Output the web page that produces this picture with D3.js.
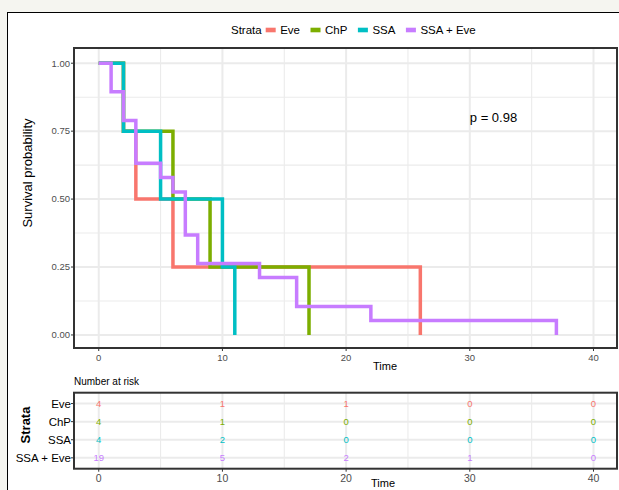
<!DOCTYPE html>
<html lang="en">
  <head>
    <meta charset="utf-8">
    <title>Survival curves</title>
    <script src="https://d3js.org/d3.v7.min.js"></script>
    <style>
     body {
       margin: 0;
       background-color: #f5f5f0;
     }
     svg {
       font-family: 'Liberation Sans', Arial, sans-serif;
     }
     .grid line {
       stroke: #ebebeb;
     }
     .tick-label {
       fill: #4d4d4d;
     }
    </style>
  </head>
  <body>
  <div id="chart"></div>
  <script>

  // strata and colours
  const strata = ["Eve", "ChP", "SSA", "SSA + Eve"];
  const colors = ["#F8766D", "#7CAE00", "#00BFC4", "#C77CFF"];

  // Kaplan-Meier steps
  const eveTime  = [0, 2, 3, 6, 26];
  const eveSurv  = [1, 0.75, 0.5, 0.25, 0];
  const chpTime  = [0, 2, 6, 9, 17];
  const chpSurv  = [1, 0.75, 0.5, 0.25, 0];
  const ssaTime  = [0, 2, 5, 10, 11];
  const ssaSurv  = [1, 0.75, 0.5, 0.25, 0];
  const comboTime = [0, 1, 2, 3, 5, 6, 7, 8, 13, 16, 22, 37];
  const comboSurv = [1, 0.895, 0.789, 0.632, 0.579, 0.526, 0.368, 0.263, 0.211, 0.105, 0.053, 0];

  // number at risk table
  const riskTimes = [0, 10, 20, 30, 40];
  const riskEve   = [4, 1, 1, 0, 0];
  const riskChP   = [4, 1, 0, 0, 0];
  const riskSSA   = [4, 2, 0, 0, 0];
  const riskCombo = [19, 5, 2, 1, 0];

  const yTicks = [0, 0.25, 0.5, 0.75, 1];
  const yTickLabels = ["0.00", "0.25", "0.50", "0.75", "1.00"];
  const xTicks = [0, 10, 20, 30, 40];
  const pLabel = "p = 0.98";

  const series = [
    {name: strata[0], time: eveTime, surv: eveSurv},
    {name: strata[1], time: chpTime, surv: chpSurv},
    {name: strata[2], time: ssaTime, surv: ssaSurv},
    {name: strata[3], time: comboTime, surv: comboSurv}
  ];
  const risk = [riskEve, riskChP, riskSSA, riskCombo];

  const W = 619, H = 490;
  const panel = {left: 74, right: 617, top: 48, bottom: 348};
  const rpanel = {left: 74, right: 617, top: 392.7, bottom: 468.7};

  const svg = d3.select("#chart").append("svg")
      .attr("width", W)
      .attr("height", H);

  // white card
  svg.append("rect")
      .attr("x", 7.5).attr("y", 12.5)
      .attr("width", W).attr("height", H)
      .attr("fill", "white")
      .attr("stroke", "black")
      .attr("stroke-width", 1);

  var x = d3.scaleLinear().domain([-2, 41.9]).range([panel.left, panel.right]);
  var y = d3.scaleLinear().domain([-0.048, 1.056]).range([panel.bottom, panel.top]);
  var color = d3.scaleOrdinal().domain(strata).range(colors);

  const minorX = [5, 15, 25, 35];
  const minorY = [0.125, 0.375, 0.625, 0.875];

  // ---- main panel grid
  var grid = svg.append("g").attr("class", "grid");
  grid.selectAll(".vmin").data(minorX).enter().append("line")
      .attr("x1", d => x(d)).attr("x2", d => x(d))
      .attr("y1", panel.top).attr("y2", panel.bottom)
      .attr("stroke-width", 1.1);
  grid.selectAll(".hmin").data(minorY).enter().append("line")
      .attr("y1", d => y(d)).attr("y2", d => y(d))
      .attr("x1", panel.left).attr("x2", panel.right)
      .attr("stroke-width", 1.1);
  grid.selectAll(".vmaj").data(xTicks).enter().append("line")
      .attr("x1", d => x(d)).attr("x2", d => x(d))
      .attr("y1", panel.top).attr("y2", panel.bottom)
      .attr("stroke-width", 2);
  grid.selectAll(".hmaj").data(yTicks).enter().append("line")
      .attr("y1", d => y(d)).attr("y2", d => y(d))
      .attr("x1", panel.left).attr("x2", panel.right)
      .attr("stroke-width", 2);

  // ---- survival curves
  var line = d3.line()
      .curve(d3.curveStepAfter)
      .x(d => x(d[0]))
      .y(d => y(d[1]));

  svg.append("g").selectAll("path")
    .data(series)
    .enter().append("path")
      .attr("d", d => line(d.time.map((t, i) => [t, d.surv[i]])))
      .attr("fill", "none")
      .attr("stroke", d => color(d.name))
      .attr("stroke-width", 3.5);

  // panel border
  svg.append("rect")
      .attr("x", panel.left).attr("y", panel.top)
      .attr("width", panel.right - panel.left)
      .attr("height", panel.bottom - panel.top)
      .attr("fill", "none")
      .attr("stroke", "#333")
      .attr("stroke-width", 2);

  // y axis
  var yAxis = svg.append("g");
  yAxis.selectAll("line").data(yTicks).enter().append("line")
      .attr("x1", panel.left - 3).attr("x2", panel.left)
      .attr("y1", d => y(d)).attr("y2", d => y(d))
      .attr("stroke", "#333");
  yAxis.selectAll("text").data(yTicks).enter().append("text")
      .attr("class", "tick-label")
      .attr("x", panel.left - 4)
      .attr("y", d => y(d))
      .attr("dy", "0.35em")
      .attr("text-anchor", "end")
      .attr("font-size", "9.5px")
      .text((d, i) => yTickLabels[i]);

  // x axis
  var xAxis = svg.append("g");
  xAxis.selectAll("line").data(xTicks).enter().append("line")
      .attr("x1", d => x(d)).attr("x2", d => x(d))
      .attr("y1", panel.bottom).attr("y2", panel.bottom + 3)
      .attr("stroke", "#333");
  xAxis.selectAll("text").data(xTicks).enter().append("text")
      .attr("class", "tick-label")
      .attr("x", d => x(d))
      .attr("y", panel.bottom + 10)
      .attr("dy", "0.35em")
      .attr("text-anchor", "middle")
      .attr("font-size", "9.5px")
      .text(d => d);

  svg.append("text")
      .attr("x", 385).attr("y", 366)
      .attr("dy", "0.35em")
      .attr("text-anchor", "middle")
      .attr("font-size", "11px")
      .text("Time");

  svg.append("text")
      .attr("transform", "translate(27," + 173 + ") rotate(-90)")
      .attr("dy", "0.35em")
      .attr("text-anchor", "middle")
      .attr("font-size", "13px")
      .text("Survival probability");

  // p value
  svg.append("text")
      .attr("x", x(30)).attr("y", y(0.8))
      .attr("dy", "0.35em")
      .attr("font-size", "13px")
      .text(pLabel);

  // ---- legend
  var legend = svg.append("g").attr("transform", "translate(231,30)");
  var lx = 0;
  var title = legend.append("text")
      .attr("x", lx).attr("dy", "0.35em")
      .attr("font-size", "11.5px")
      .text("Strata");
  lx += title.node().getComputedTextLength() + 4;
  strata.forEach(function(s) {
    legend.append("rect")
        .attr("x", lx).attr("y", -2.3)
        .attr("width", 10).attr("height", 4.6)
        .attr("fill", color(s));
    lx += 14.5;
    var t = legend.append("text")
        .attr("x", lx).attr("dy", "0.35em")
        .attr("font-size", "11.5px")
        .text(s);
    lx += t.node().getComputedTextLength() + 10.5;
  });

  // ---- risk table
  var yr = d3.scalePoint().domain(strata)
      .range([rpanel.top, rpanel.bottom]).padding(0.6);

  svg.append("text")
      .attr("x", rpanel.left).attr("y", 381)
      .attr("dy", "0.35em")
      .attr("font-size", "10px")
      .text("Number at risk");

  var rgrid = svg.append("g").attr("class", "grid");
  rgrid.selectAll(".vmin").data(minorX).enter().append("line")
      .attr("x1", d => x(d)).attr("x2", d => x(d))
      .attr("y1", rpanel.top).attr("y2", rpanel.bottom)
      .attr("stroke-width", 1.1);
  rgrid.selectAll(".vmaj").data(xTicks).enter().append("line")
      .attr("x1", d => x(d)).attr("x2", d => x(d))
      .attr("y1", rpanel.top).attr("y2", rpanel.bottom)
      .attr("stroke-width", 2);
  rgrid.selectAll(".hmaj").data(strata).enter().append("line")
      .attr("y1", d => yr(d)).attr("y2", d => yr(d))
      .attr("x1", rpanel.left).attr("x2", rpanel.right)
      .attr("stroke-width", 2);

  strata.forEach(function(s, i) {
    svg.append("g").selectAll("text")
      .data(riskTimes)
      .enter().append("text")
        .attr("x", d => x(d))
        .attr("y", yr(s))
        .attr("dy", "0.35em")
        .attr("text-anchor", "middle")
        .attr("font-size", "9.5px")
        .attr("fill", color(s))
        .text((d, j) => risk[i][j]);
  });

  svg.append("rect")
      .attr("x", rpanel.left).attr("y", rpanel.top)
      .attr("width", rpanel.right - rpanel.left)
      .attr("height", rpanel.bottom - rpanel.top)
      .attr("fill", "none")
      .attr("stroke", "#333")
      .attr("stroke-width", 2);

  var ryAxis = svg.append("g");
  ryAxis.selectAll("line").data(strata).enter().append("line")
      .attr("x1", rpanel.left - 3).attr("x2", rpanel.left)
      .attr("y1", d => yr(d)).attr("y2", d => yr(d))
      .attr("stroke", "#333");
  ryAxis.selectAll("text").data(strata).enter().append("text")
      .attr("x", rpanel.left - 3)
      .attr("y", d => yr(d))
      .attr("dy", "0.35em")
      .attr("text-anchor", "end")
      .attr("font-size", "11.5px")
      .text(d => d);

  var rxAxis = svg.append("g");
  rxAxis.selectAll("line").data(xTicks).enter().append("line")
      .attr("x1", d => x(d)).attr("x2", d => x(d))
      .attr("y1", rpanel.bottom).attr("y2", rpanel.bottom + 3)
      .attr("stroke", "#333");
  rxAxis.selectAll("text").data(xTicks).enter().append("text")
      .attr("class", "tick-label")
      .attr("x", d => x(d))
      .attr("y", 478)
      .attr("dy", "0.35em")
      .attr("text-anchor", "middle")
      .attr("font-size", "10.5px")
      .text(d => d);

  svg.append("text")
      .attr("x", 383).attr("y", 483)
      .attr("dy", "0.35em")
      .attr("text-anchor", "middle")
      .attr("font-size", "11px")
      .text("Time");

  svg.append("text")
      .attr("transform", "translate(25,425) rotate(-90)")
      .attr("dy", "0.35em")
      .attr("text-anchor", "middle")
      .attr("font-size", "13px")
      .attr("font-weight", "bold")
      .text("Strata");

</script>
  </body>
</html>
